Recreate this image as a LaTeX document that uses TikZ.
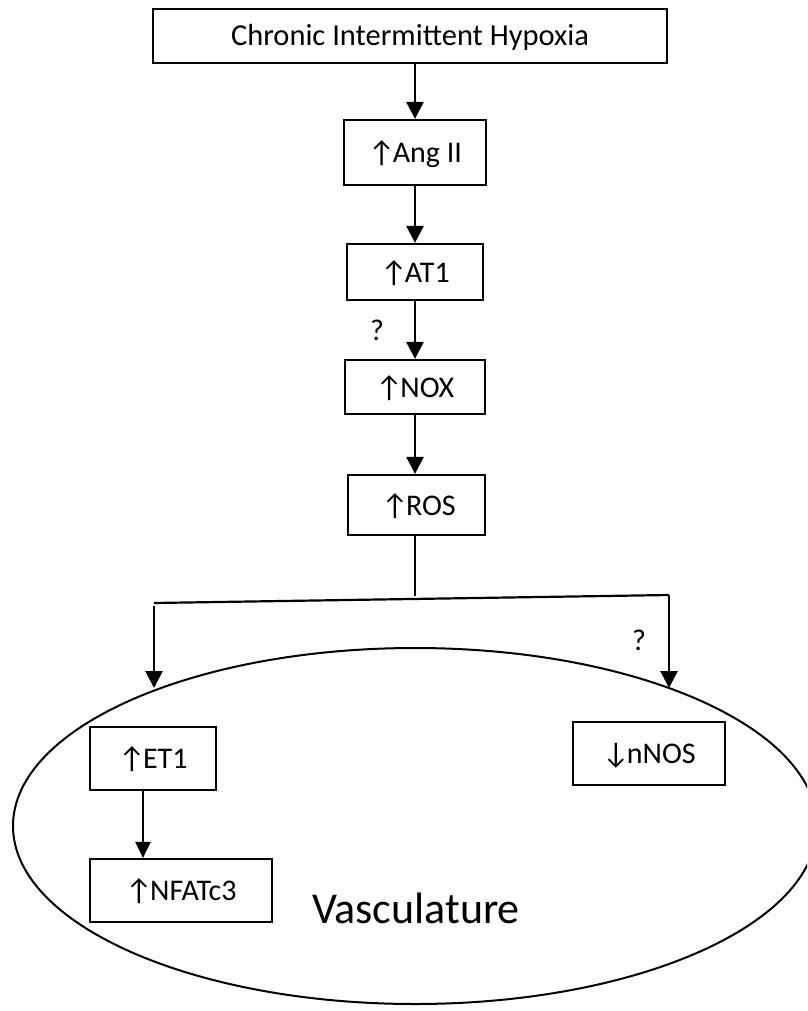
\documentclass[tikz,border=0pt]{standalone}
\usepackage{fontspec}
\setmainfont{Carlito}
\usetikzlibrary{arrows.meta,shapes.geometric}

% arrows set tight against the box labels
\newcommand\uparr{↑\hspace{-2.5pt}}
\newcommand\downarr{↓\hspace{-2.5pt}}

\begin{document}
\begin{tikzpicture}[x=1pt,y=-1pt,
  box/.style={draw, line width=2.2pt, rectangle, inner sep=0pt,
    text height=20pt, text depth=0pt, font=\fontsize{30}{36}\selectfont},
  flow/.style={line width=2.8pt, -{Triangle[length=17pt,width=17pt]}},
  link/.style={line width=2.2pt},
  qmark/.style={font=\fontsize{30}{36}\selectfont, inner sep=0pt}]
\useasboundingbox (0,0) rectangle (807,1011);
\clip (0,0) rectangle (807,1011);

% main cascade
\node[box, minimum width=514pt, minimum height=54pt, font=\fontsize{30.5}{36}\selectfont] (cih) at (410,36) {Chronic Intermittent Hypoxia};
\node[box, minimum width=142pt, minimum height=65pt] (ang) at (415,152.5) {\uparr Ang II};
\node[box, minimum width=136pt, minimum height=56pt] (at1) at (415,272) {\uparr AT1\hspace{16pt}};
\node[box, minimum width=140pt, minimum height=54pt] (nox) at (415,387) {\uparr NOX\hspace{13pt}};
\node[box, minimum width=137pt, minimum height=60pt] (ros) at (416.5,505) {\hspace*{4pt}\uparr ROS};

\draw[flow] (cih.south -| ang.north) -- (ang.north);
\draw[flow] (ang.south) -- (at1.north);
\draw[flow] (at1.south) -- (nox.north);
\draw[flow] (nox.south) -- (nox.south |- ros.north);
\node[qmark] (q1) at (377,330) {?};

% vasculature compartment
\node[draw, ellipse, line width=2pt, minimum width=804pt, minimum height=356pt, inner sep=0pt] (vasc) at (415,826) {};
\node[anchor=base, inner sep=0pt, font=\fontsize{44}{50}\selectfont] (vlabel) at (416,923) {Vasculature};

\node[box, minimum width=126pt, minimum height=63pt] (et1) at (153,758.5) {\uparr ET1\hspace{10pt}};
\node[box, minimum width=182pt, minimum height=63pt] (nfat) at (181,890.5) {\uparr NFATc3\hspace{16pt}};
\node[box, minimum width=152pt, minimum height=63pt] (nnos) at (649,753.5) {\downarr nNOS\hspace{15pt}};
\draw[line width=2.4pt, -{Triangle[length=16pt,width=15pt]}] (et1.south -| 143,0) -- (nfat.north -| 143,0);

% branching from ROS
\coordinate (stem) at (415,596);
\coordinate (bl) at (154,603);
\coordinate (br) at (669,595);
\coordinate (lstart) at (154,606);
\coordinate (ltip) at (154,688);
\coordinate (rtip) at (669,688);
\draw[line width=1.6pt] (ros.south -| stem) -- (stem);
\draw[link] (bl) -- (br);
\draw[flow] (br) -- (rtip);
\draw[flow] (lstart) -- (ltip);
\node[qmark] (q2) at (639,640) {?};
\end{tikzpicture}
\end{document}
